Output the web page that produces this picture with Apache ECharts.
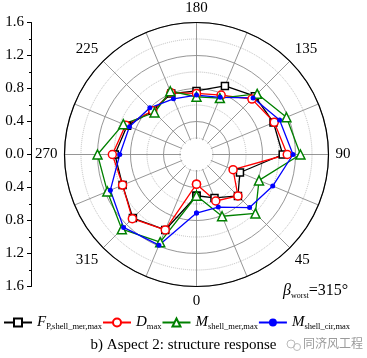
<!DOCTYPE html>
<html>
<head>
<meta charset="utf-8">
<script src="https://cdn.jsdelivr.net/npm/echarts@6/dist/echarts.min.js"></script>
<style>
html,body{margin:0;padding:0;background:#fff;}
#main{width:367px;height:358px;}
</style>
</head>
<body>
<div id="main"></div>
<script>
// Wind direction angles (degrees)
const angles = [0, 22.5, 45, 67.5, 90, 112.5, 135, 157.5, 180, 202.5, 225, 247.5, 270, 292.5, 315, 337.5];
// Normalised responses
const fpShellMerMax = [0.50, 0.57, 0.71, 0.57, 1.045, 1.01, 1.00, 0.90, 0.77, 0.80, 0.75, 0.91, 0.99, 0.97, 1.09, 0.99];
const dMax          = [0.36, 0.61, 0.71, 0.48, 1.10, 1.02, 0.95, 0.78, 0.74, 0.81, 0.75, 0.93, 1.02, 0.97, 1.10, 0.99];
const mShellMerMax  = [0.50, 0.81, 1.01, 0.82, 1.26, 1.18, 1.04, 0.74, 0.70, 0.83, 0.72, 0.96, 1.20, 1.17, 1.28, 1.15];
const mShellCirMax  = [0.71, 0.69, 0.91, 1.00, 1.17, 1.09, 0.97, 0.75, 0.72, 0.73, 0.80, 0.88, 0.93, 1.13, 1.25, 1.19];
const angleLabels = [0, 45, 90, 135, 180, 225, 270, 315];
const radialTicks = [-1.6, -1.2, -0.8, -0.4, 0, 0.4, 0.8, 1.2, 1.6];
const seriesNames = ['FP', 'Dmax', 'Mmer', 'Mcir'];
const legendLabels = {
  FP: '{it|F}{sub|P,shell_mer,max}',
  Dmax: '{it|D}{sub|max}',
  Mmer: '{it|M}{sub|shell_mer,max}',
  Mcir: '{it|M}{sub|shell_cir,max}'
};
const titleText = 'b) Aspect 2: structure response';

const SERIF = '"Liberation Serif", "Times New Roman", serif';
const cx = 196.5, cy = 154.5, R = 132;

function toData(vals) {
  const d = angles.map((a, i) => [vals[i], a]);
  d.push([vals[0], 360]);
  return d;
}

function mk(name, vals, color, symbol, size, filled) {
  return {
    name: name,
    type: 'line',
    coordinateSystem: 'polar',
    polarIndex: 0,
    data: toData(vals),
    symbol: symbol,
    symbolSize: size,
    lineStyle: { color: color, width: 1.3 },
    itemStyle: { color: filled ? color : '#fff', borderColor: color, borderWidth: filled ? 0 : 1.5 },
    emphasis: { disabled: true },
    animation: false,
    z: 5
  };
}

const chart = echarts.init(document.getElementById('main'), null, { renderer: 'canvas' });
chart.setOption({
  animation: false,
  backgroundColor: '#fff',
  title: {
    text: titleText,
    left: 'center',
    top: 333,
    textStyle: { fontFamily: SERIF, fontSize: 15, fontWeight: 'normal', color: '#000' }
  },
  polar: { center: [cx, cy], radius: R },
  angleAxis: {
    type: 'value',
    min: 0, max: 360, interval: 22.5,
    startAngle: 270,
    clockwise: false,
    axisLine: { show: true, lineStyle: { color: '#000', width: 1.2 } },
    axisTick: { show: false },
    axisLabel: {
      margin: 7,
      fontFamily: SERIF, fontSize: 15, color: '#000',
      formatter: v => angleLabels.indexOf(v) >= 0 ? String(v) : ''
    },
    splitLine: { show: true, lineStyle: { color: '#8a8a8a', width: 0.9 } }
  },
  radiusAxis: {
    type: 'value',
    min: 0, max: 1.6, interval: 0.4,
    axisLine: { show: false },
    axisTick: { show: false },
    axisLabel: { show: false },
    splitLine: { show: true, lineStyle: { color: '#8a8a8a', width: 0.9 } },
    minorTick: { show: false, splitNumber: 2 },
    minorSplitLine: { show: true, lineStyle: { color: '#bdbdbd', type: 'dotted', width: 1 } }
  },
  grid: { left: 31, top: cy - R, width: 1, height: 2 * R },
  xAxis: { type: 'value', show: false, min: 0, max: 1 },
  yAxis: {
    type: 'value',
    min: radialTicks[0], max: radialTicks[radialTicks.length - 1], interval: 0.4,
    axisLine: { show: true, lineStyle: { color: '#000', width: 1 } },
    axisTick: { show: true, inside: false, length: 4, lineStyle: { color: '#000' } },
    minorTick: { show: true, splitNumber: 2, length: 2, lineStyle: { color: '#000' } },
    splitLine: { show: false },
    axisLabel: {
      margin: 7, fontFamily: SERIF, fontSize: 15, color: '#000',
      formatter: v => Math.abs(v).toFixed(1)
    }
  },
  legend: {
    left: 0, top: 310, width: 367,
    padding: [5, 0, 5, 3],
    itemWidth: 28, itemHeight: 10, itemGap: 0,
    data: seriesNames,
    formatter: n => legendLabels[n],
    textStyle: {
      color: '#000',
      rich: {
        it: { fontFamily: SERIF, fontStyle: 'italic', fontSize: 15, color: '#000' },
        sub: { fontFamily: SERIF, fontSize: 8.5, color: '#000', padding: [9, 0, 0, 0] }
      }
    }
  },
  graphic: [
    { type: 'circle', shape: { cx: cx, cy: cy, r: 15.5 }, style: { fill: '#fff' }, z: 3, silent: true },
    {
      type: 'text', left: 283, top: 283, z: 10,
      style: {
        text: '{b|β}{s|worst}{t|=315°}',
        rich: {
          b: { fontFamily: SERIF, fontStyle: 'italic', fontSize: 16, fill: '#000' },
          s: { fontFamily: SERIF, fontSize: 8, fill: '#000', padding: [10, 0, 0, 0] },
          t: { fontFamily: SERIF, fontSize: 16, fill: '#000' }
        }
      }
    },
    {
      type: 'text', left: 303, top: 337, z: 10,
      style: { text: '同济风工程', font: '12px "Noto Sans CJK SC"', fill: '#9a9a9a' }
    },
    { type: 'circle', shape: { cx: 291, cy: 344, r: 4 }, style: { fill: 'none', stroke: '#bbb', lineWidth: 1 }, z: 10 },
    { type: 'circle', shape: { cx: 297, cy: 347, r: 3.5 }, style: { fill: 'none', stroke: '#bbb', lineWidth: 1 }, z: 10 }
  ],
  series: [
    mk('FP', fpShellMerMax, '#000000', 'rect', 7, false),
    mk('Dmax', dMax, '#ff0000', 'circle', 8, false),
    mk('Mmer', mShellMerMax, '#008000', 'triangle', 9, false),
    mk('Mcir', mShellCirMax, '#0000ff', 'circle', 5, true)
  ]
});
</script>
</body>
</html>
